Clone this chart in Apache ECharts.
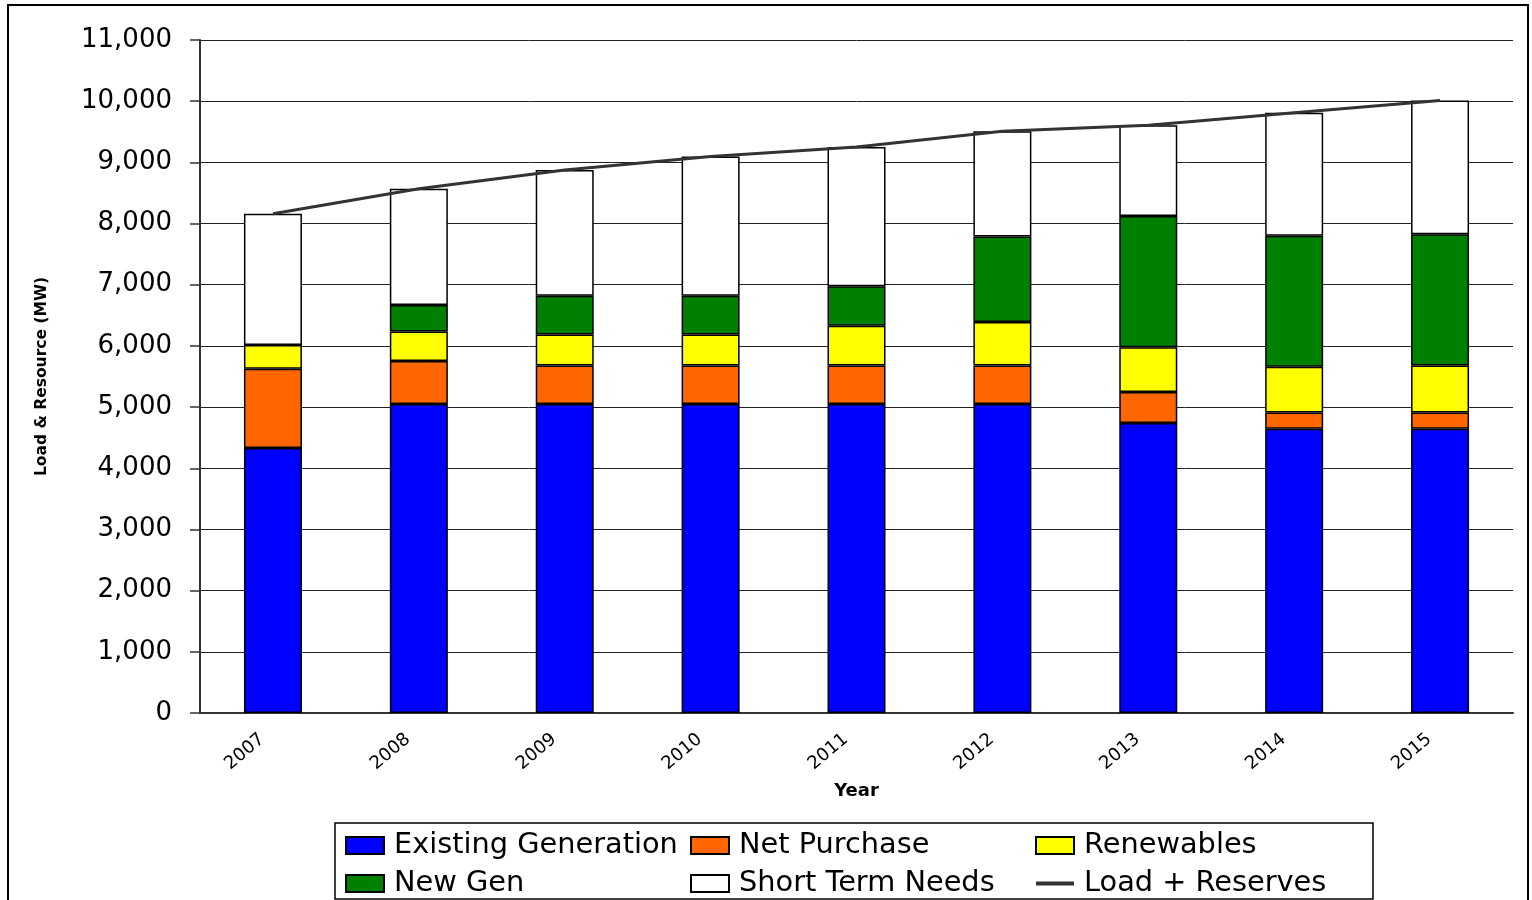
<!DOCTYPE html>
<html>
<head>
<meta charset="utf-8">
<title>Load & Resource</title>
<script src="https://cdn.jsdelivr.net/npm/echarts@6/dist/echarts.min.js"></script>
<style>
  html, body { margin: 0; padding: 0; background: #fff; }
  #chart { width: 1532px; height: 900px; }
</style>
</head>
<body>
<div id="chart"></div>
<script>
// values (MW)
const years = ['2007', '2008', '2009', '2010', '2011', '2012', '2013', '2014', '2015']
const existingGen = [4330, 5050, 5050, 5050, 5050, 5050, 4740, 4645, 4645]
const netPurchase = [1295, 705, 630, 630, 630, 630, 505, 265, 265]
const renewables = [390, 480, 505, 505, 650, 710, 735, 750, 770]
const newGen = [0, 435, 635, 635, 645, 1400, 2145, 2140, 2145]
const shortTerm = [2145, 1900, 2055, 2275, 2275, 1720, 1480, 2010, 2185]
const loadReserves = [8160, 8570, 8875, 9095, 9250, 9510, 9605, 9810, 10010]

const font = 'DejaVu Sans'

function barSeries(name, data, color) {
  return {
    name: name,
    type: 'bar',
    stack: 'total',
    data: data,
    barWidth: 58,
    itemStyle: { color: color, borderColor: '#000', borderWidth: 1.5 }
  }
}

// one legend per column, two rows each
function legendCol(left, names) {
  return {
    orient: 'vertical',
    left: left,
    top: 831,
    padding: 0,
    itemWidth: 38,
    itemHeight: 17,
    itemGap: 9,
    selectedMode: false,
    data: names,
    textStyle: { fontFamily: font, fontSize: 28.8, color: '#000', lineHeight: 28, padding: [0, 0, 0, 5] }
  }
}

const option = {
  animation: false,
  backgroundColor: '#fff',
  grid: { left: 200, right: 19, top: 40, bottom: 187 },
  legend: [
    legendCol(345, [{ name: 'Existing Generation', icon: 'rect' }, { name: 'New Gen', icon: 'rect' }]),
    legendCol(690, [{ name: 'Net Purchase', icon: 'rect' }, { name: 'Short Term Needs', icon: 'rect' }]),
    legendCol(1035, [
      { name: 'Renewables', icon: 'rect' },
      { name: 'Load + Reserves', icon: 'path://M0,0L40,0L40,4L0,4Z' }
    ])
  ],
  graphic: [
    {
      type: 'rect',
      shape: { x: 8, y: 5, width: 1520, height: 920 },
      style: { fill: 'none', stroke: '#000', lineWidth: 2 },
      silent: true
    },
    {
      type: 'rect',
      shape: { x: 335, y: 823, width: 1038, height: 76 },
      style: { fill: 'none', stroke: '#000', lineWidth: 1.5 },
      silent: true
    }
  ],
  xAxis: {
    type: 'category',
    data: years,
    name: 'Year',
    nameLocation: 'middle',
    nameGap: 69,
    nameTextStyle: { fontFamily: font, fontSize: 18, fontWeight: 'bold', color: '#000' },
    axisLine: { lineStyle: { color: '#333', width: 2 } },
    axisTick: { length: 6, lineStyle: { color: '#333', width: 1.5 } },
    axisLabel: {
      rotate: 40, fontFamily: font, fontSize: 18, color: '#000', margin: 15,
      padding: [0, 14, 0, 0]
    }
  },
  yAxis: {
    type: 'value',
    min: 0,
    max: 11000,
    interval: 1000,
    name: 'Load & Resource (MW)',
    nameLocation: 'middle',
    nameGap: 150,
    nameTextStyle: { fontFamily: font, fontSize: 15.5, fontWeight: 'bold', color: '#000' },
    axisLine: { show: true, lineStyle: { color: '#333', width: 2 } },
    axisTick: { show: true, length: 10, lineStyle: { color: '#333', width: 1.5 } },
    axisLabel: {
      fontFamily: font, fontSize: 26, color: '#000', margin: 28,
      formatter: v => v.toLocaleString('en-US')
    },
    splitLine: { lineStyle: { color: '#222', width: 1 } }
  },
  series: [
    barSeries('Existing Generation', existingGen, '#0000ff'),
    barSeries('Net Purchase', netPurchase, '#ff6600'),
    barSeries('Renewables', renewables, '#ffff00'),
    barSeries('New Gen', newGen, '#008000'),
    barSeries('Short Term Needs', shortTerm, '#ffffff'),
    {
      name: 'Load + Reserves',
      type: 'line',
      data: loadReserves,
      symbol: 'none',
      z: 5,
      itemStyle: { color: '#333' },
      lineStyle: { color: '#333', width: 3 }
    }
  ]
}

const chart = echarts.init(document.getElementById('chart'))
chart.setOption(option)
</script>
</body>
</html>
